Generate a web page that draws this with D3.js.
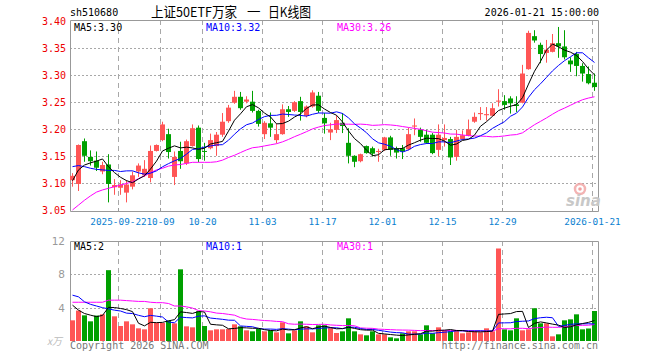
<!DOCTYPE html>
<html><head><meta charset="utf-8">
<script src="https://cdn.jsdelivr.net/npm/d3@7/dist/d3.min.js"></script>
<style>body{margin:0;background:#fff}svg{display:block}</style>
</head><body><svg id="c" width="660" height="360"></svg>
<script>
const dates = [
"2025-09-10","2025-09-11","2025-09-12","2025-09-15","2025-09-16","2025-09-17","2025-09-18","2025-09-19","2025-09-22","2025-09-23","2025-09-24","2025-09-25","2025-09-26","2025-09-29","2025-09-30",
"2025-10-09","2025-10-10","2025-10-13","2025-10-14","2025-10-15","2025-10-16","2025-10-17","2025-10-20","2025-10-21","2025-10-22","2025-10-23","2025-10-24","2025-10-27","2025-10-28","2025-10-29","2025-10-30","2025-10-31",
"2025-11-03","2025-11-04","2025-11-05","2025-11-06","2025-11-07","2025-11-10","2025-11-11","2025-11-12","2025-11-13","2025-11-14","2025-11-17","2025-11-18","2025-11-19","2025-11-20","2025-11-21","2025-11-24","2025-11-25","2025-11-26","2025-11-27","2025-11-28",
"2025-12-01","2025-12-02","2025-12-03","2025-12-04","2025-12-05","2025-12-08","2025-12-09","2025-12-10","2025-12-11","2025-12-12","2025-12-15","2025-12-16","2025-12-17","2025-12-18","2025-12-19","2025-12-22","2025-12-23","2025-12-24","2025-12-25","2025-12-26","2025-12-29","2025-12-30","2025-12-31",
"2026-01-05","2026-01-06","2026-01-07","2026-01-08","2026-01-09","2026-01-12","2026-01-13","2026-01-14","2026-01-15","2026-01-16","2026-01-19","2026-01-20","2026-01-21"];

const open  = [3.106,3.099,3.178,3.149,3.142,3.122,3.135,3.093,3.092,3.083,3.094,3.122,3.115,3.110,3.160,3.180,3.191,3.112,3.160,3.137,3.169,3.203,3.160,3.165,3.169,3.190,3.215,3.249,3.260,3.251,3.251,3.234,3.191,3.211,3.180,3.191,3.237,3.234,3.252,3.225,3.242,3.262,3.221,3.194,3.199,3.212,3.175,3.151,3.141,3.169,3.165,3.158,3.162,3.185,3.165,3.165,3.163,3.205,3.199,3.190,3.190,3.162,3.180,3.182,3.149,3.182,3.188,3.214,3.228,3.226,3.225,3.251,3.252,3.257,3.246,3.249,3.311,3.372,3.356,3.341,3.343,3.359,3.353,3.327,3.339,3.317,3.302,3.286];
const high  = [3.119,3.172,3.183,3.161,3.159,3.140,3.154,3.108,3.106,3.106,3.122,3.137,3.143,3.170,3.172,3.214,3.201,3.159,3.177,3.181,3.209,3.207,3.175,3.192,3.195,3.230,3.245,3.271,3.269,3.261,3.271,3.236,3.215,3.231,3.210,3.246,3.243,3.252,3.260,3.244,3.272,3.269,3.230,3.212,3.226,3.230,3.202,3.152,3.155,3.170,3.168,3.164,3.186,3.188,3.168,3.171,3.203,3.220,3.203,3.199,3.193,3.209,3.209,3.186,3.199,3.198,3.218,3.231,3.241,3.241,3.248,3.274,3.263,3.261,3.261,3.319,3.382,3.383,3.360,3.365,3.376,3.389,3.383,3.333,3.343,3.322,3.316,3.303];
const low   = [3.094,3.086,3.140,3.133,3.123,3.117,3.065,3.079,3.079,3.065,3.089,3.112,3.112,3.102,3.159,3.178,3.146,3.097,3.127,3.134,3.168,3.139,3.142,3.163,3.151,3.186,3.212,3.247,3.236,3.248,3.231,3.205,3.182,3.186,3.174,3.190,3.223,3.232,3.216,3.222,3.240,3.230,3.192,3.180,3.193,3.193,3.137,3.130,3.139,3.155,3.150,3.140,3.160,3.151,3.146,3.145,3.161,3.189,3.177,3.173,3.154,3.150,3.168,3.134,3.142,3.180,3.187,3.212,3.217,3.216,3.224,3.242,3.236,3.229,3.232,3.248,3.310,3.360,3.322,3.323,3.342,3.332,3.329,3.306,3.298,3.288,3.283,3.271];
const close = [3.114,3.171,3.151,3.141,3.129,3.134,3.099,3.097,3.098,3.098,3.115,3.133,3.127,3.160,3.171,3.209,3.158,3.149,3.141,3.178,3.202,3.145,3.159,3.180,3.190,3.214,3.240,3.260,3.239,3.255,3.234,3.210,3.212,3.203,3.191,3.237,3.232,3.250,3.232,3.242,3.268,3.234,3.211,3.200,3.217,3.206,3.151,3.140,3.154,3.156,3.155,3.160,3.185,3.162,3.157,3.159,3.191,3.207,3.186,3.175,3.156,3.190,3.184,3.148,3.186,3.189,3.200,3.223,3.230,3.228,3.239,3.253,3.245,3.248,3.243,3.303,3.378,3.364,3.339,3.347,3.359,3.353,3.333,3.320,3.317,3.303,3.285,3.278];
const volume = [2.48,3.65,3.08,2.36,3.05,3.2,8.5,2.96,1.8,2.36,
 2.0,1.52,1.4,3.93,2.16,2.16,2.44,2.12,8.6,1.76,
 1.64,3.57,1.8,1.28,1.4,1.4,1.44,2.0,1.76,1.28,
 1.16,1.44,1.16,1.28,1.04,2.24,0.92,1.28,2.36,1.76,
 1.04,1.88,1.88,1.55,0.96,1.16,2.72,1.16,0.8,0.68,
 1.16,0.8,0.8,0.44,0.32,0.92,1.16,1.16,0.8,1.88,
 0.92,1.64,1.28,1.16,1.28,0.92,1.04,1.16,1.04,1.52,
 1.16,11.1,1.4,1.28,2.72,1.28,1.4,3.93,2.12,2.12,
 0.56,0.8,2.48,2.6,3.2,1.4,1.5,3.6];

// moving-average values before a full window is available
const ma5Head  = [3.105,3.125,3.134,3.138];
const ma10Head = [3.131,3.133,3.131,3.128,3.126,3.125,3.124,3.124,3.122];
const ma30Head = [3.051,3.060,3.069,3.077,3.084,3.088,3.091,3.094,3.097,3.100,3.103,3.109,3.114,3.120,3.125,3.128,3.132,3.134,3.135,3.137,3.139,3.139,3.139,3.139,3.140,3.143,3.148,3.152,3.157];
const vma5Head  = [4.3,3.7,3.3,3.1];
const vma10Head = [5.5,5.3,4.7,4.4,4.2,4.0,3.85,3.7,3.6];
const vma30Head = [4.65,4.65,4.65,4.65,4.65,4.65,4.9,4.9,4.9,4.85,4.8,4.75,4.75,4.65,4.6,4.6,4.5,4.2,4.2,4.1,3.95,3.65,3.6,3.5,3.35,3.3,3.2,3.1,2.8];

const priceTicks = [3.05,3.10,3.15,3.20,3.25,3.30,3.35,3.40];
const volTicks = [4,8,12];
const tickDates  = ["2025-09-22","2025-10-09","2025-10-20","2025-11-03","2025-11-17","2025-12-01","2025-12-15","2025-12-29","2026-01-21"];
const tickLabels = ["2025-09-22","10-09","10-20","11-03","11-17","12-01","12-15","12-29","2026-01-21"];

const priceLegend = [{t:"MA5:3.30",c:"#000"},{t:"MA10:3.32",c:"#0000ff"},{t:"MA30:3.26",c:"#ff00ff"}];
const volLegend   = [{t:"MA5:2",c:"#000"},{t:"MA10:1",c:"#0000ff"},{t:"MA30:1",c:"#ff00ff"}];

const RED = "#ff5555", GREEN = "#00a000", GRID = "#a8a8a8", FRAME = "#999";
const MONO = "'DejaVu Sans Mono', monospace";

function movAvg(arr, n, head) {
  return arr.map((v, i) => i < n - 1 ? head[i] : d3.mean(arr.slice(i - n + 1, i + 1)));
}

const svg = d3.select("#c");
const L = 70, R = 598, PT = 20, PB = 211, VT = 241, VB = 341;
const x = d3.scaleBand().domain(dates).range([69, 597]);
const cx = d => x(d) + 3.5;
const gx = d => x(d) + 1.5;
const yP = d3.scaleLinear().domain([3.05, 3.40]).range([210.5, 21]);
const yV = d3.scaleLinear().domain([0, 12]).range([VB, VT]);

// header
svg.append("text").attr("x", 70).attr("y", 16).attr("font-family", MONO).attr("font-size", 10).attr("fill", "#000").text("sh510680");
const TF = "'Noto Sans CJK SC', sans-serif";
svg.append("text").attr("x", 151).attr("y", 17).attr("font-family", TF).attr("font-size", 13.5).attr("fill", "#000")
  .attr("textLength", 86).attr("lengthAdjust", "spacingAndGlyphs").text("上证50ETF万家");
svg.append("text").attr("x", 247).attr("y", 17).attr("font-family", TF).attr("font-size", 13.5).attr("fill", "#000").text("一");
svg.append("text").attr("x", 268).attr("y", 17).attr("font-family", TF).attr("font-size", 13.5).attr("fill", "#000")
  .attr("textLength", 43).attr("lengthAdjust", "spacingAndGlyphs").text("日K线图");
svg.append("text").attr("x", 599).attr("y", 16).attr("text-anchor", "end").attr("font-family", MONO).attr("font-size", 10).attr("fill", "#000").text("2026-01-21 15:00:00");

// price grid
const gP = svg.append("g");
gP.selectAll("line.h").data(priceTicks.filter(t => t > 3.05 && t < 3.40)).join("line")
  .attr("x1", L).attr("x2", R).attr("y1", d => Math.round(yP(d)) + 0.5).attr("y2", d => Math.round(yP(d)) + 0.5)
  .attr("stroke", GRID).attr("stroke-dasharray", "2,2");
gP.selectAll("line.v").data(tickDates).join("line")
  .attr("x1", gx).attr("x2", gx).attr("y1", PT).attr("y2", PB)
  .attr("stroke", GRID).attr("stroke-dasharray", "5,4");
gP.selectAll("line.t").data(tickDates).join("line")
  .attr("x1", gx).attr("x2", gx).attr("y1", PB - 3).attr("y2", PB).attr("stroke", FRAME);

// volume grid
const gV = svg.append("g");
gV.selectAll("line.h").data([4, 8]).join("line")
  .attr("x1", L).attr("x2", R).attr("y1", d => Math.round(yV(d)) + 0.5).attr("y2", d => Math.round(yV(d)) + 0.5)
  .attr("stroke", GRID).attr("stroke-dasharray", "2,2");
gV.selectAll("line.v").data(tickDates).join("line")
  .attr("x1", gx).attr("x2", gx).attr("y1", VT).attr("y2", VB)
  .attr("stroke", GRID).attr("stroke-dasharray", "5,4");

// frames
svg.append("path").attr("d", `M${L+0.5},${PT+0.5}H${R+0.5}V${PB+0.5}H${L+0.5}Z`).attr("fill", "none").attr("stroke", FRAME);
svg.append("path").attr("d", `M${L+0.5},${VB}V${VT+0.5}H${R+0.5}V${VB}`).attr("fill", "none").attr("stroke", FRAME);

// axes
const axP = svg.append("g").attr("transform", `translate(${L},0)`)
  .call(d3.axisLeft(yP).tickValues(priceTicks).tickFormat(d3.format(".2f")).tickSize(0).tickPadding(4));
axP.select(".domain").remove();
axP.selectAll("text").attr("font-family", MONO).attr("font-size", 10).attr("fill", "#ee0000");

const axX = svg.append("g").attr("transform", `translate(-1.5,${PB})`)
  .call(d3.axisBottom(x).tickValues(tickDates).tickFormat((d, i) => tickLabels[i]).tickSize(0).tickPadding(7));
axX.select(".domain").remove();
axX.selectAll("text").attr("font-family", MONO).attr("font-size", 9.4).attr("fill", "#0a7fd0");

const axV = svg.append("g").attr("transform", `translate(${L},0)`)
  .call(d3.axisLeft(yV).tickValues(volTicks).tickSize(0).tickPadding(5));
axV.select(".domain").remove();
axV.selectAll("text").attr("font-family", "'DejaVu Sans', sans-serif").attr("font-size", 10.5).attr("fill", "#999");
svg.append("text").attr("x", 47).attr("y", 345).attr("font-family", TF).attr("font-size", 10).attr("font-style", "italic").attr("fill", "#bbb").text("x万");

// watermark
const wm = svg.append("g");
wm.append("circle").attr("cx", 580).attr("cy", 189).attr("r", 5).attr("fill", "none").attr("stroke", "#f0a0a0").attr("stroke-width", 2.5).attr("opacity", 0.8);
wm.append("circle").attr("cx", 580).attr("cy", 189).attr("r", 1.8).attr("fill", "#e88").attr("opacity", 0.8);
wm.append("text").attr("x", 566).attr("y", 206).attr("font-family", "'DejaVu Sans', sans-serif").attr("font-weight", "bold").attr("font-style", "italic").attr("font-size", 15).attr("fill", "#c8c8c8").text("sina");

// candles
const data = dates.map((d, i) => ({d, o: open[i], h: high[i], l: low[i], c: close[i], v: volume[i], up: close[i] >= open[i]}));
const gC = svg.append("g");
gC.selectAll("line").data(data).join("line")
  .attr("x1", d => cx(d.d)).attr("x2", d => cx(d.d))
  .attr("y1", d => yP(d.h)).attr("y2", d => yP(d.l))
  .attr("stroke", d => d.up ? RED : GREEN);
gC.selectAll("rect").data(data).join("rect")
  .attr("x", d => x(d.d) + 1).attr("width", 5)
  .attr("y", d => Math.min(yP(d.o), yP(d.c)))
  .attr("height", d => Math.max(1, Math.abs(yP(d.o) - yP(d.c))))
  .attr("fill", d => d.up ? RED : GREEN);

// price MAs
const line = d3.line().x((v, i) => cx(dates[i]));
const ma5 = movAvg(close, 5, ma5Head), ma10 = movAvg(close, 10, ma10Head), ma30 = movAvg(close, 30, ma30Head);
[[ma30, "#ff00ff"], [ma10, "#0000ff"], [ma5, "#000"]].forEach(([arr, col]) => {
  svg.append("path").attr("d", line.y(v => yP(v))(arr)).attr("fill", "none").attr("stroke", col).attr("stroke-width", 1);
});

// volume bars
svg.append("g").selectAll("rect").data(data).join("rect")
  .attr("x", d => x(d.d) + 1).attr("width", 5)
  .attr("y", d => yV(d.v)).attr("height", d => yV(0) - yV(d.v))
  .attr("fill", d => d.up ? RED : GREEN);
const vma5 = movAvg(volume, 5, vma5Head), vma10 = movAvg(volume, 10, vma10Head), vma30 = movAvg(volume, 30, vma30Head);
[[vma30, "#ff00ff"], [vma10, "#0000ff"], [vma5, "#000"]].forEach(([arr, col]) => {
  svg.append("path").attr("d", line.y(v => yV(v))(arr)).attr("fill", "none").attr("stroke", col).attr("stroke-width", 1);
});

// legends
const lx = [74, 206, 337];
svg.append("g").selectAll("text").data(priceLegend).join("text")
  .attr("x", (d, i) => lx[i]).attr("y", 31).attr("font-family", MONO).attr("font-size", 10).attr("fill", d => d.c).text(d => d.t);
svg.append("g").selectAll("text").data(volLegend).join("text")
  .attr("x", (d, i) => lx[i]).attr("y", 250).attr("font-family", MONO).attr("font-size", 10).attr("fill", d => d.c).text(d => d.t);

// footer
svg.append("text").attr("x", 70).attr("y", 349).attr("font-family", MONO).attr("font-size", 10).attr("fill", "#777").text("Copyright 2026 SINA.COM");
svg.append("text").attr("x", 598).attr("y", 349).attr("text-anchor", "end").attr("font-family", MONO).attr("font-size", 10).attr("fill", "#777").text("http://finance.sina.com.cn");
</script></body></html>
